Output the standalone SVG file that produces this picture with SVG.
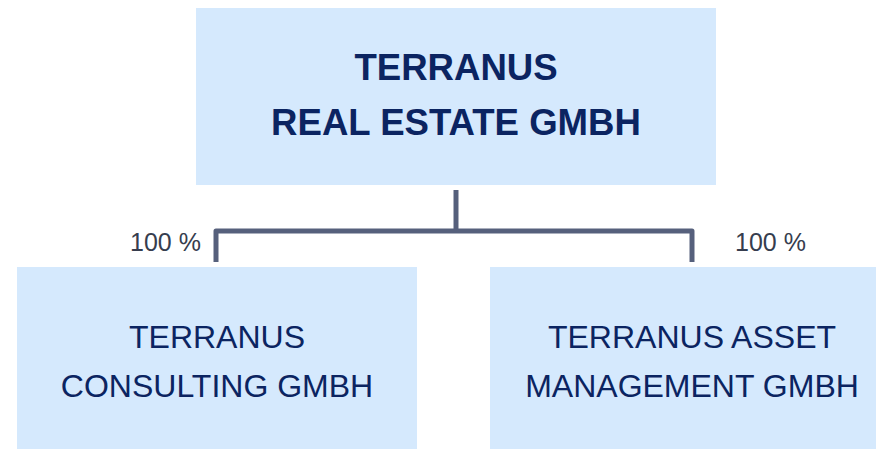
<svg xmlns="http://www.w3.org/2000/svg" width="876" height="449" viewBox="0 0 876 449">
<style>
.box{fill:#D5E9FD;}
.t{font-family:"Liberation Sans",Arial,sans-serif;fill:#0B2461;text-anchor:middle;}
.b{font-weight:bold;font-size:36.6px;}
.r{font-size:32px;}
.pct{font-family:"Liberation Sans",Arial,sans-serif;font-size:25px;fill:#363D4E;}
.con{fill:none;stroke:#56607C;stroke-width:5;stroke-linejoin:round;}
</style>
<rect width="876" height="449" fill="#ffffff"/>
<g id="parent">
<rect class="box" x="196" y="8" width="520" height="177"/>
<text class="t b" x="456" y="80">TERRANUS</text>
<text class="t b" x="456" y="135">REAL ESTATE GMBH</text>
</g>
<g id="consulting">
<rect class="box" x="17" y="267" width="400" height="182"/>
<text class="t r" x="217" y="348">TERRANUS</text>
<text class="t r" x="217" y="397">CONSULTING GMBH</text>
</g>
<g id="asset">
<rect class="box" x="490" y="267" width="386" height="182"/>
<text class="t r" x="692" y="348">TERRANUS ASSET</text>
<text class="t r" x="692" y="397">MANAGEMENT GMBH</text>
</g>
<g id="connectors">
<path class="con" d="M456 190 V231"/>
<path class="con" d="M216 262 V231 H692 V262"/>
<text class="pct" x="130" y="251">100 %</text>
<text class="pct" x="735" y="251">100 %</text>
</g>
</svg>
